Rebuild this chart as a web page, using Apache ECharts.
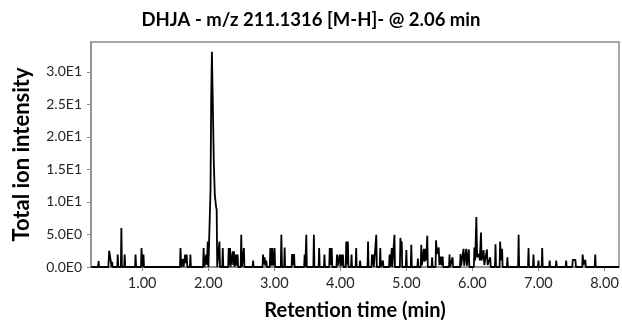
<!DOCTYPE html>
<html>
<head>
<meta charset="utf-8">
<script src="https://cdn.jsdelivr.net/npm/echarts@6/dist/echarts.min.js"></script>
<style>
  html, body { margin: 0; padding: 0; background: #fff; }
  #chart { width: 622px; height: 326px; }
</style>
</head>
<body>
<div id="chart"></div>
<script>
// Extracted ion chromatogram, DHJA [M-H]- at m/z 211.1316
const chartTitle = 'DHJA - m/z 211.1316 [M-H]- @ 2.06 min';

// Retention time of each scan (min)
const retentionTime = [
  0.230, 0.332, 0.340, 0.348,
  0.488, 0.500, 0.515, 0.528, 0.538, 0.545, 0.553,
  0.622, 0.630, 0.638, 0.677, 0.685, 0.693, 0.727, 0.735, 0.743,
  0.892, 0.900, 0.908, 0.982, 0.990, 1.003, 1.012, 1.020, 1.028,
  1.572, 1.580, 1.592, 1.615, 1.627, 1.643, 1.650, 1.662, 1.675, 1.683,
  1.722, 1.730, 1.738, 1.922, 1.930, 1.942, 1.962, 1.970, 1.980, 1.993, 2.003,
  2.020, 2.035, 2.045, 2.056, 2.068, 2.085, 2.100, 2.120, 2.128, 2.136,
  2.162, 2.170, 2.178, 2.212, 2.220, 2.228,
  2.302, 2.310, 2.318, 2.330, 2.338, 2.362, 2.370, 2.378, 2.390, 2.398,
  2.412, 2.420, 2.432, 2.445, 2.453, 2.492, 2.500, 2.510, 2.530, 2.540, 2.548,
  2.672, 2.680, 2.688, 2.822, 2.830, 2.842, 2.855, 2.865, 2.880, 2.888,
  2.932, 2.940, 2.952, 2.970, 2.982, 3.005, 3.013,
  3.099, 3.107, 3.117, 3.149, 3.157, 3.165, 3.262, 3.270, 3.283, 3.300, 3.308,
  3.452, 3.460, 3.470, 3.477, 3.485, 3.493, 3.592, 3.600, 3.608,
  3.672, 3.680, 3.688, 3.752, 3.760, 3.768, 3.832, 3.840, 3.852, 3.870, 3.878,
  3.942, 3.950, 3.962, 3.990, 4.002, 4.015, 4.027, 4.040, 4.048,
  4.082, 4.090, 4.102, 4.115, 4.123, 4.162, 4.170, 4.178, 4.232, 4.240, 4.248, 4.292, 4.300, 4.308,
  4.412, 4.420, 4.428, 4.472, 4.480, 4.490, 4.500, 4.508, 4.537, 4.545, 4.553,
  4.597, 4.605, 4.613, 4.637, 4.645, 4.653,
  4.738, 4.746, 4.756, 4.772, 4.780, 4.788, 4.812, 4.820, 4.828,
  4.902, 4.910, 4.920, 4.930, 4.938, 4.992, 5.000, 5.008, 5.067, 5.075, 5.083, 5.167, 5.175, 5.183,
  5.218, 5.226, 5.236, 5.265, 5.275, 5.290, 5.300, 5.317, 5.325, 5.382, 5.390, 5.398,
  5.442, 5.450, 5.462, 5.490, 5.500, 5.520, 5.533, 5.550, 5.558,
  5.646, 5.654, 5.662, 5.692, 5.700, 5.708,
  5.812, 5.820, 5.830, 5.866, 5.876, 5.907, 5.917, 5.946, 5.954,
  6.022, 6.030, 6.042, 6.060, 6.072, 6.100, 6.112, 6.130, 6.140, 6.170, 6.180, 6.220, 6.230, 6.270, 6.278,
  6.342, 6.350, 6.358, 6.412, 6.420, 6.432, 6.450, 6.458, 6.522, 6.530, 6.538,
  6.692, 6.700, 6.708, 6.842, 6.850, 6.858, 6.917, 6.925, 6.933, 6.992, 7.000, 7.008, 7.049, 7.057, 7.065,
  7.162, 7.170, 7.178, 7.262, 7.270, 7.278, 7.412, 7.420, 7.428,
  7.512, 7.520, 7.540, 7.560, 7.568, 7.662, 7.670, 7.682, 7.702, 7.710, 7.718, 7.852, 7.860, 7.868, 8.220
];

// Total ion intensity of each scan
const intensity = [
  0, 0, 0.9, 0,
  0, 2.5, 2.7, 2.2, 0, 0.8, 0,
  0, 1.9, 0, 0, 6.0, 0, 0, 1.9, 0,
  0, 1.9, 0, 0, 2.9, 0, 0, 1.9, 0,
  0, 2.9, 0, 1.2, 0, 0, 1.9, 0.6, 1.9, 0,
  0, 1.9, 0, 0, 2.9, 0, 0, 1.9, 0.3, 3.9, 0,
  0.3, 12, 26, 33.1, 26, 16, 11, 9.2, 8.8, 0,
  0, 3.9, 0, 0, 2.9, 0,
  0, 2.9, 0.3, 2.9, 0, 0, 2.4, 0.3, 2.4, 0,
  0, 1.9, 0.2, 1.9, 0, 0, 4.95, 0, 0, 2.9, 0,
  0, 1.0, 0, 0, 1.9, 0.4, 1.5, 0.2, 1.0, 0,
  0, 2.9, 0.2, 2.9, 0.2, 2.9, 0,
  0, 4.95, 0, 0, 3.0, 0, 0, 2.0, 0.3, 2.0, 0,
  0, 1.9, 0, 0, 4.95, 0, 0, 4.95, 0,
  0, 2.9, 0, 0, 1.9, 0, 0, 2.9, 0.3, 2.9, 0,
  0, 1.9, 0.2, 1.9, 0.1, 1.9, 0.2, 1.9, 0,
  0, 3.9, 0.4, 3.9, 0, 0, 1.9, 0, 0, 2.9, 0, 0, 1.0, 0,
  0, 3.9, 0, 0, 1.9, 0.3, 1.9, 0, 0, 4.95, 0,
  0, 2.9, 0, 0, 1.0, 0,
  0, 1.9, 0, 0, 2.9, 0, 0, 4.95, 0,
  0, 4.5, 3.2, 3.9, 0, 0, 2.6, 0, 0, 3.4, 0, 0, 1.3, 0,
  0, 3.4, 0.3, 2.8, 0.8, 2.8, 1.0, 4.8, 0, 0, 1.5, 0,
  0, 4.1, 2.0, 3.0, 0.3, 1.6, 0.3, 1.6, 0,
  0, 1.9, 0, 0, 1.5, 0,
  0, 2.0, 0.2, 2.8, 0.2, 2.8, 0.2, 2.7, 0,
  0, 3.0, 1.0, 7.7, 1.5, 2.0, 1.0, 5.3, 1.0, 2.6, 0.3, 2.7, 0.3, 1.5, 0,
  0, 3.5, 0, 0, 3.9, 1.0, 2.8, 0, 0, 1.5, 0,
  0, 4.95, 0, 0, 2.9, 0, 0, 1.9, 0, 0, 1.0, 0, 0, 2.9, 0,
  0, 1.0, 0, 0, 1.0, 0, 0, 1.0, 0,
  0, 1.1, 0.9, 1.1, 0, 0, 1.9, 0.3, 0, 1.1, 0, 0, 1.9, 0, 0
];

// Axis tick positions
const xTicks = [1, 2, 3, 4, 5, 6, 7, 8];
const yTicks = [0, 5, 10, 15, 20, 25, 30];

const points = retentionTime.map((t, i) => [t, intensity[i]]);

const FONT = 'Lato, "Open Sans", sans-serif';
const chart = echarts.init(document.getElementById('chart'), null, { renderer: 'canvas' });

chart.setOption({
  animation: false,
  backgroundColor: '#ffffff',
  title: {
    text: chartTitle,
    left: 'center',
    top: 6,
    textStyle: { fontFamily: FONT, fontWeight: 'bold', fontSize: 18.5, color: '#000' }
  },
  grid: {
    left: 91, right: 3, top: 42, bottom: 58,
    show: true, borderColor: '#8c8c8c', borderWidth: 1.5, backgroundColor: 'transparent'
  },
  xAxis: {
    type: 'value',
    min: 0.225,
    max: 8.22,
    name: 'Retention time (min)',
    nameLocation: 'middle',
    nameGap: 34,
    nameTextStyle: { fontFamily: FONT, fontWeight: 'bold', fontSize: 20, color: '#000' },
    axisLine: { show: true, lineStyle: { color: '#8c8c8c', width: 1.5 } },
    axisTick: { show: true, length: 4, customValues: xTicks, lineStyle: { color: '#8c8c8c' } },
    axisLabel: {
      customValues: xTicks,
      margin: 9,
      fontFamily: FONT, fontSize: 14.5, color: '#262626',
      formatter: v => v.toFixed(2)
    },
    splitLine: { show: false }
  },
  yAxis: {
    type: 'value',
    min: 0,
    max: 34.6,
    name: 'Total ion intensity',
    nameLocation: 'middle',
    nameGap: 58,
    nameTextStyle: { fontFamily: FONT, fontWeight: 'bold', fontSize: 22, color: '#000' },
    axisLine: { show: true, lineStyle: { color: '#8c8c8c', width: 1.5 } },
    axisTick: { show: true, length: 4, customValues: yTicks, lineStyle: { color: '#8c8c8c' } },
    axisLabel: {
      customValues: yTicks,
      margin: 9,
      fontFamily: FONT, fontSize: 14, color: '#262626',
      formatter: v => v.toExponential(1).replace('e+', 'E').replace('e-', 'E-')
    },
    splitLine: { show: false }
  },
  series: [{
    type: 'line',
    data: points,
    showSymbol: false,
    symbol: 'none',
    lineStyle: { color: '#000', width: 1.8 },
    clip: true
  }]
});
</script>
</body>
</html>
